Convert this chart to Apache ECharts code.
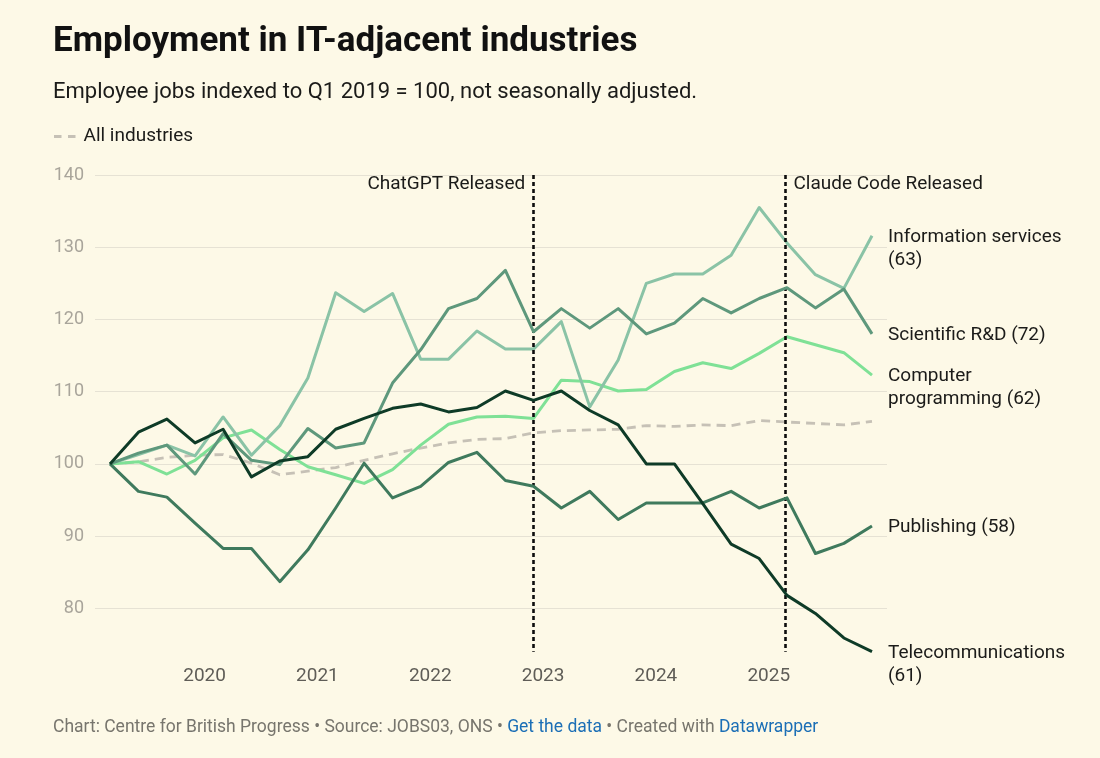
<!DOCTYPE html>
<html><head><meta charset="utf-8">
<script src="https://cdn.jsdelivr.net/npm/echarts@6/dist/echarts.min.js"></script>
<style>html,body{margin:0;padding:0;background:#fdf9e7;} #c{width:1100px;height:758px;}</style>
</head><body><div id="c"></div>
<script>
const quarters = ['2019-03-01','2019-06-01','2019-09-01','2019-12-01',
  '2020-03-01','2020-06-01','2020-09-01','2020-12-01',
  '2021-03-01','2021-06-01','2021-09-01','2021-12-01',
  '2022-03-01','2022-06-01','2022-09-01','2022-12-01',
  '2023-03-01','2023-06-01','2023-09-01','2023-12-01',
  '2024-03-01','2024-06-01','2024-09-01','2024-12-01',
  '2025-03-01','2025-06-01','2025-09-01','2025-12-01'];
const allIndustries = [100,100.3,100.9,101.2,101.3,100.1,98.5,99.0,99.5,100.5,101.4,102.2,102.9,103.4,103.5,104.3,104.6,104.7,104.8,105.3,105.2,105.4,105.3,106.0,105.8,105.6,105.4,105.9];
const computerProgramming = [100,100.3,98.6,100.5,103.6,104.7,102.0,99.6,98.5,97.3,99.2,102.6,105.5,106.5,106.6,106.3,111.6,111.4,110.1,110.3,112.8,114.0,113.2,115.3,117.6,116.5,115.4,112.3];
const informationServices = [100,101.3,102.6,101.1,106.5,101.2,105.3,111.9,123.7,121.1,123.6,114.5,114.5,118.4,115.9,115.9,119.7,107.9,114.4,125.0,126.3,126.3,128.9,135.5,130.6,126.2,124.3,131.6];
const scientificRD = [100,101.5,102.6,98.6,104.2,100.5,99.9,104.9,102.2,102.9,111.2,115.8,121.5,122.9,126.8,118.3,121.5,118.8,121.5,118.0,119.5,122.9,120.9,122.9,124.4,121.6,124.2,118.0];
const publishing = [100,96.2,95.4,91.8,88.3,88.3,83.7,88.1,93.9,100.1,95.3,96.9,100.2,101.6,97.7,96.9,93.9,96.2,92.3,94.6,94.6,94.6,96.2,93.9,95.3,87.6,89.0,91.4];
const telecommunications = [100,104.4,106.2,102.9,104.8,98.2,100.4,101.0,104.8,106.3,107.7,108.3,107.2,107.8,110.1,108.8,110.1,107.4,105.4,100.0,100.0,94.5,88.9,86.9,81.8,79.3,75.9,74.0];
const yearTicks = [2020,2021,2022,2023,2024,2025];
const yTicks = [70,80,90,100,110,120,130,140];
const events = [
  {date:'2022-11-30', label:'ChatGPT Released', side:'left'},
  {date:'2025-02-24', label:'Claude Code Released', side:'right'}
];
const seriesDefs = [
  {name:'All industries', values:allIndustries, color:'#c6c1b6', dashed:true, end:null},
  {name:'Computer programming', values:computerProgramming, color:'#7fe196', end:'Computer\nprogramming (62)'},
  {name:'Information services', values:informationServices, color:'#8ac3a6', end:'Information services\n(63)'},
  {name:'Scientific R&D', values:scientificRD, color:'#5e987c', end:'Scientific R&D (72)'},
  {name:'Publishing', values:publishing, color:'#3f7a5d', end:'Publishing (58)'},
  {name:'Telecommunications', values:telecommunications, color:'#0e3b27', end:'Telecommunications\n(61)'}
];

function toYear(s){
  const [y,m,d] = s.split('-').map(Number);
  const t = Date.UTC(y,m-1,d), a = Date.UTC(y,0,1), b = Date.UTC(y+1,0,1);
  return y + (t-a)/(b-a);
}
const xs = quarters.map(toYear);
const pad = 0.133;
const FONT = 'Roboto, "Noto Sans", sans-serif';
const dataMin = Math.min(...seriesDefs.map(s=>Math.min(...s.values)));
const LH = 22.6;

const series = seriesDefs.map((s,idx)=>{
  const o = {
    name:s.name, type:'line', symbol:'none', silent:true,
    data: s.values.map((v,i)=>[xs[i], v]),
    lineStyle:{color:s.color, width: s.dashed?2.8:3, type: s.dashed?[9,6]:'solid', cap:'butt', join:'round'},
    itemStyle:{color:s.color},
    z: 2+idx
  };
  if (s.end){
    const lines = s.end.split('\n').length;
    o.endLabel = {show:true, formatter:s.end, color:'#1b1b19', fontSize:19, fontFamily:FONT,
      lineHeight:LH, distance:16, offset:[0,(lines-1)*LH/2 + 1.5]};
  }
  if (idx===0){
    o.markLine = {symbol:['none','none'], silent:true, animation:false,
      lineStyle:{color:'#0d0d0d', type:[4,3], width:2.6},
      label:{show:false},
      data: events.map(e=>[{coord:[toYear(e.date),140]},{coord:[toYear(e.date),dataMin]}])};
    o.markPoint = {symbol:'circle', symbolSize:0, silent:true, animation:false,
      data: events.map(e=>({coord:[toYear(e.date),140],
        label:{show:true, formatter:e.label, position:e.side, distance:8, offset:[0,9.5],
          color:'#1b1b19', fontSize:19, fontFamily:FONT}}))};
  }
  return o;
});

const chart = echarts.init(document.getElementById('c'), null, {renderer:'canvas'});
chart.setOption({
  backgroundColor:'#fdf9e7',
  animation:false,
  title:[
    {text:'Employment in IT-adjacent industries', left:53, top:25, padding:0,
      textStyle:{fontFamily:FONT, fontWeight:'bold', fontSize:35, color:'#111'}},
    {text:'Employee jobs indexed to Q1 2019 = 100, not seasonally adjusted.', left:53, top:81, padding:0,
      textStyle:{fontFamily:FONT, fontWeight:'normal', fontSize:22, color:'#1b1b19'}},
    {text:'{g|Chart: Centre for British Progress • Source: JOBS03, ONS • }{b|Get the data}{g| • Created with }{b|Datawrapper}',
      left:53, top:719, padding:0,
      textStyle:{fontFamily:FONT, fontWeight:'normal', fontSize:17.5,
        rich:{g:{color:'#77756d', fontSize:17.5, fontFamily:FONT}, b:{color:'#1c6fb6', fontSize:17.5, fontFamily:FONT}}}}
  ],
  legend:{data:[{name:'All industries', icon:'path://M0,0h7.5v2.8h-7.5z M14,0h7.5v2.8h-7.5z'}],
    left:54, top:127, padding:0, itemWidth:21.5, itemHeight:2.8, itemGap:10,
    selectedMode:false, itemStyle:{color:'#c6c1b6'},
    textStyle:{fontFamily:FONT, fontSize:19, color:'#1b1b19', padding:[0,0,0,3]}},
  grid:{left:95, right:213, top:175, bottom:77.4, containLabel:false},
  xAxis:{type:'value', min:xs[0]-pad, max:xs[xs.length-1]+pad, offset:-25,
    axisLine:{show:false}, axisTick:{show:false}, splitLine:{show:false},
    axisLabel:{customValues:yearTicks, formatter:v=>String(Math.round(v)), color:'#5f5d57', fontSize:19, fontFamily:FONT, margin:11}},
  yAxis:{type:'value', min:yTicks[0], max:yTicks[yTicks.length-1], interval:10,
    axisLine:{show:false}, axisTick:{show:false},
    splitLine:{show:true, lineStyle:{color:yTicks.map((t,i)=>i===0?'rgba(0,0,0,0)':'#e6e2d4'), width:1}},
    axisLabel:{formatter:v=>v===yTicks[0]?'':String(v), color:'#a9a59b', fontSize:18, fontFamily:FONT, margin:11}},
  series
});
</script></body></html>
